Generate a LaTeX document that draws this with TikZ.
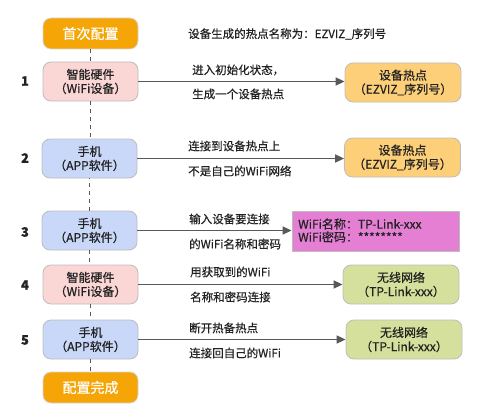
\documentclass[tikz,border=0pt]{standalone}
\usepackage{fontspec}
\setmainfont[FakeBold=0.6]{Noto Sans CJK SC}
\usetikzlibrary{arrows.meta}
\definecolor{startc}{HTML}{F5A505}
\definecolor{pinkc}{HTML}{FAD6D5}
\definecolor{bluec}{HTML}{C9D8F8}
\definecolor{hotc}{HTML}{FDCF78}
\definecolor{greenc}{HTML}{D4E09B}
\definecolor{magc}{HTML}{E47FD4}
\definecolor{bordc}{HTML}{BDBDBD}
\definecolor{linec}{HTML}{595959}
\definecolor{txtc}{HTML}{222222}
\begin{document}
\begin{tikzpicture}[x=1pt,y=-1pt,
  box/.style={draw=bordc,line width=0.8pt,rounded corners=8pt,minimum width=95pt,minimum height=39pt,inner sep=0pt,align=center,font=\fontsize{12}{14}\selectfont,text=txtc},
  endbox/.style={box,draw=bordc!60,fill=startc,minimum height=31pt,text=white,font=\fontsize{14}{16}\selectfont},
  tgt/.style={box,minimum width=116pt},
  lbl/.style={anchor=west,font=\fontsize{11.5}{13}\selectfont,text=txtc,inner sep=0pt},
  num/.style={font=\fontsize{13}{15}\selectfont\bfseries,text=txtc,inner sep=0pt},
  arr/.style={draw=linec,line width=1.6pt,-{Triangle[length=9pt,width=8pt]}},
  dsh/.style={draw=linec,line width=1.6pt,dash pattern=on 4pt off 4pt}]
\useasboundingbox (0,0) rectangle (494,417);
\node[endbox] (s) at (90.5,33.5) {首次配置};
\node[lbl] (hdr) at (188,34) {设备生成的热点名称为：EZVIZ\_序列号};
\node[box,fill=pinkc] (a1) at (90.5,81.5) {智能硬件\\（WiFi设备）};
\node[box,fill=bluec] (a2) at (89.5,158.5) {手机\\（APP软件）};
\node[box,fill=bluec] (a3) at (89.5,230.5) {手机\\（APP软件）};
\node[box,fill=pinkc] (a4) at (90.5,284.5) {智能硬件\\（WiFi设备）};
\node[box,fill=bluec] (a5) at (90.5,339.5) {手机\\（APP软件）};
\node[endbox] (e) at (90.5,387.5) {配置完成};
\node[num] (n1) at (25,81) {1};
\node[num] (n2) at (25,158) {2};
\node[num] (n3) at (25,232) {3};
\node[num] (n4) at (25,285) {4};
\node[num] (n5) at (25,340) {5};
\node[tgt,fill=hotc] (b1) at (403,82.5) {设备热点\\（EZVIZ\_序列号）};
\node[tgt,fill=hotc] (b2) at (402.5,157.5) {设备热点\\（EZVIZ\_序列号）};
\node[draw=bordc,line width=0.8pt,fill=magc,minimum width=167pt,minimum height=40pt,inner sep=0pt] (b3) at (375.5,231) {};
\node[anchor=west,align=left,inner sep=0pt,font=\fontsize{12}{13}\selectfont,text=txtc] (b3t) at (298,230.5) {WiFi名称：TP-Link-xxx\\WiFi密码：********};
\node[tgt,fill=greenc] (b4) at (401,284.5) {无线网络\\（TP-Link-xxx）};
\node[tgt,fill=greenc] (b5) at (404,339.5) {无线网络\\（TP-Link-xxx）};
\draw[dsh] (s) -- (a1);
\draw[dsh] (a1) -- (a1|-a2.north);
\draw[dsh] (a3.north) -- (a3|-a2.south);
\draw[dsh] (a3) -- (a3|-a4.north);
\draw[dsh] (a4) -- (a5);
\draw[dsh] (a5) -- (e);
\draw[arr] (a1) -- (b1.west|-a1);
\draw[arr] (a2) -- (b2.west|-a2);
\draw[arr] (a3) -- (b3.west|-a3);
\draw[arr] (a4) -- (b4.west|-a4);
\draw[arr] (a5) -- (b5.west|-a5);
\node[lbl] (l1a) at (192,70) {进入初始化状态，};
\node[lbl] (l1b) at (192,94) {生成一个设备热点};
\node[lbl] (l2a) at (188,146) {连接到设备热点上};
\node[lbl] (l2b) at (188,171) {不是自己的WiFi网络};
\node[lbl] (l3a) at (189,219) {输入设备要连接};
\node[lbl] (l3b) at (189,244) {的WiFi名称和密码};
\node[lbl] (l4a) at (190,272) {用获取到的WiFi};
\node[lbl] (l4b) at (190,297) {名称和密码连接};
\node[lbl] (l5a) at (189,328) {断开热备热点};
\node[lbl] (l5b) at (189,353) {连接回自己的WiFi};
\end{tikzpicture}
\end{document}
